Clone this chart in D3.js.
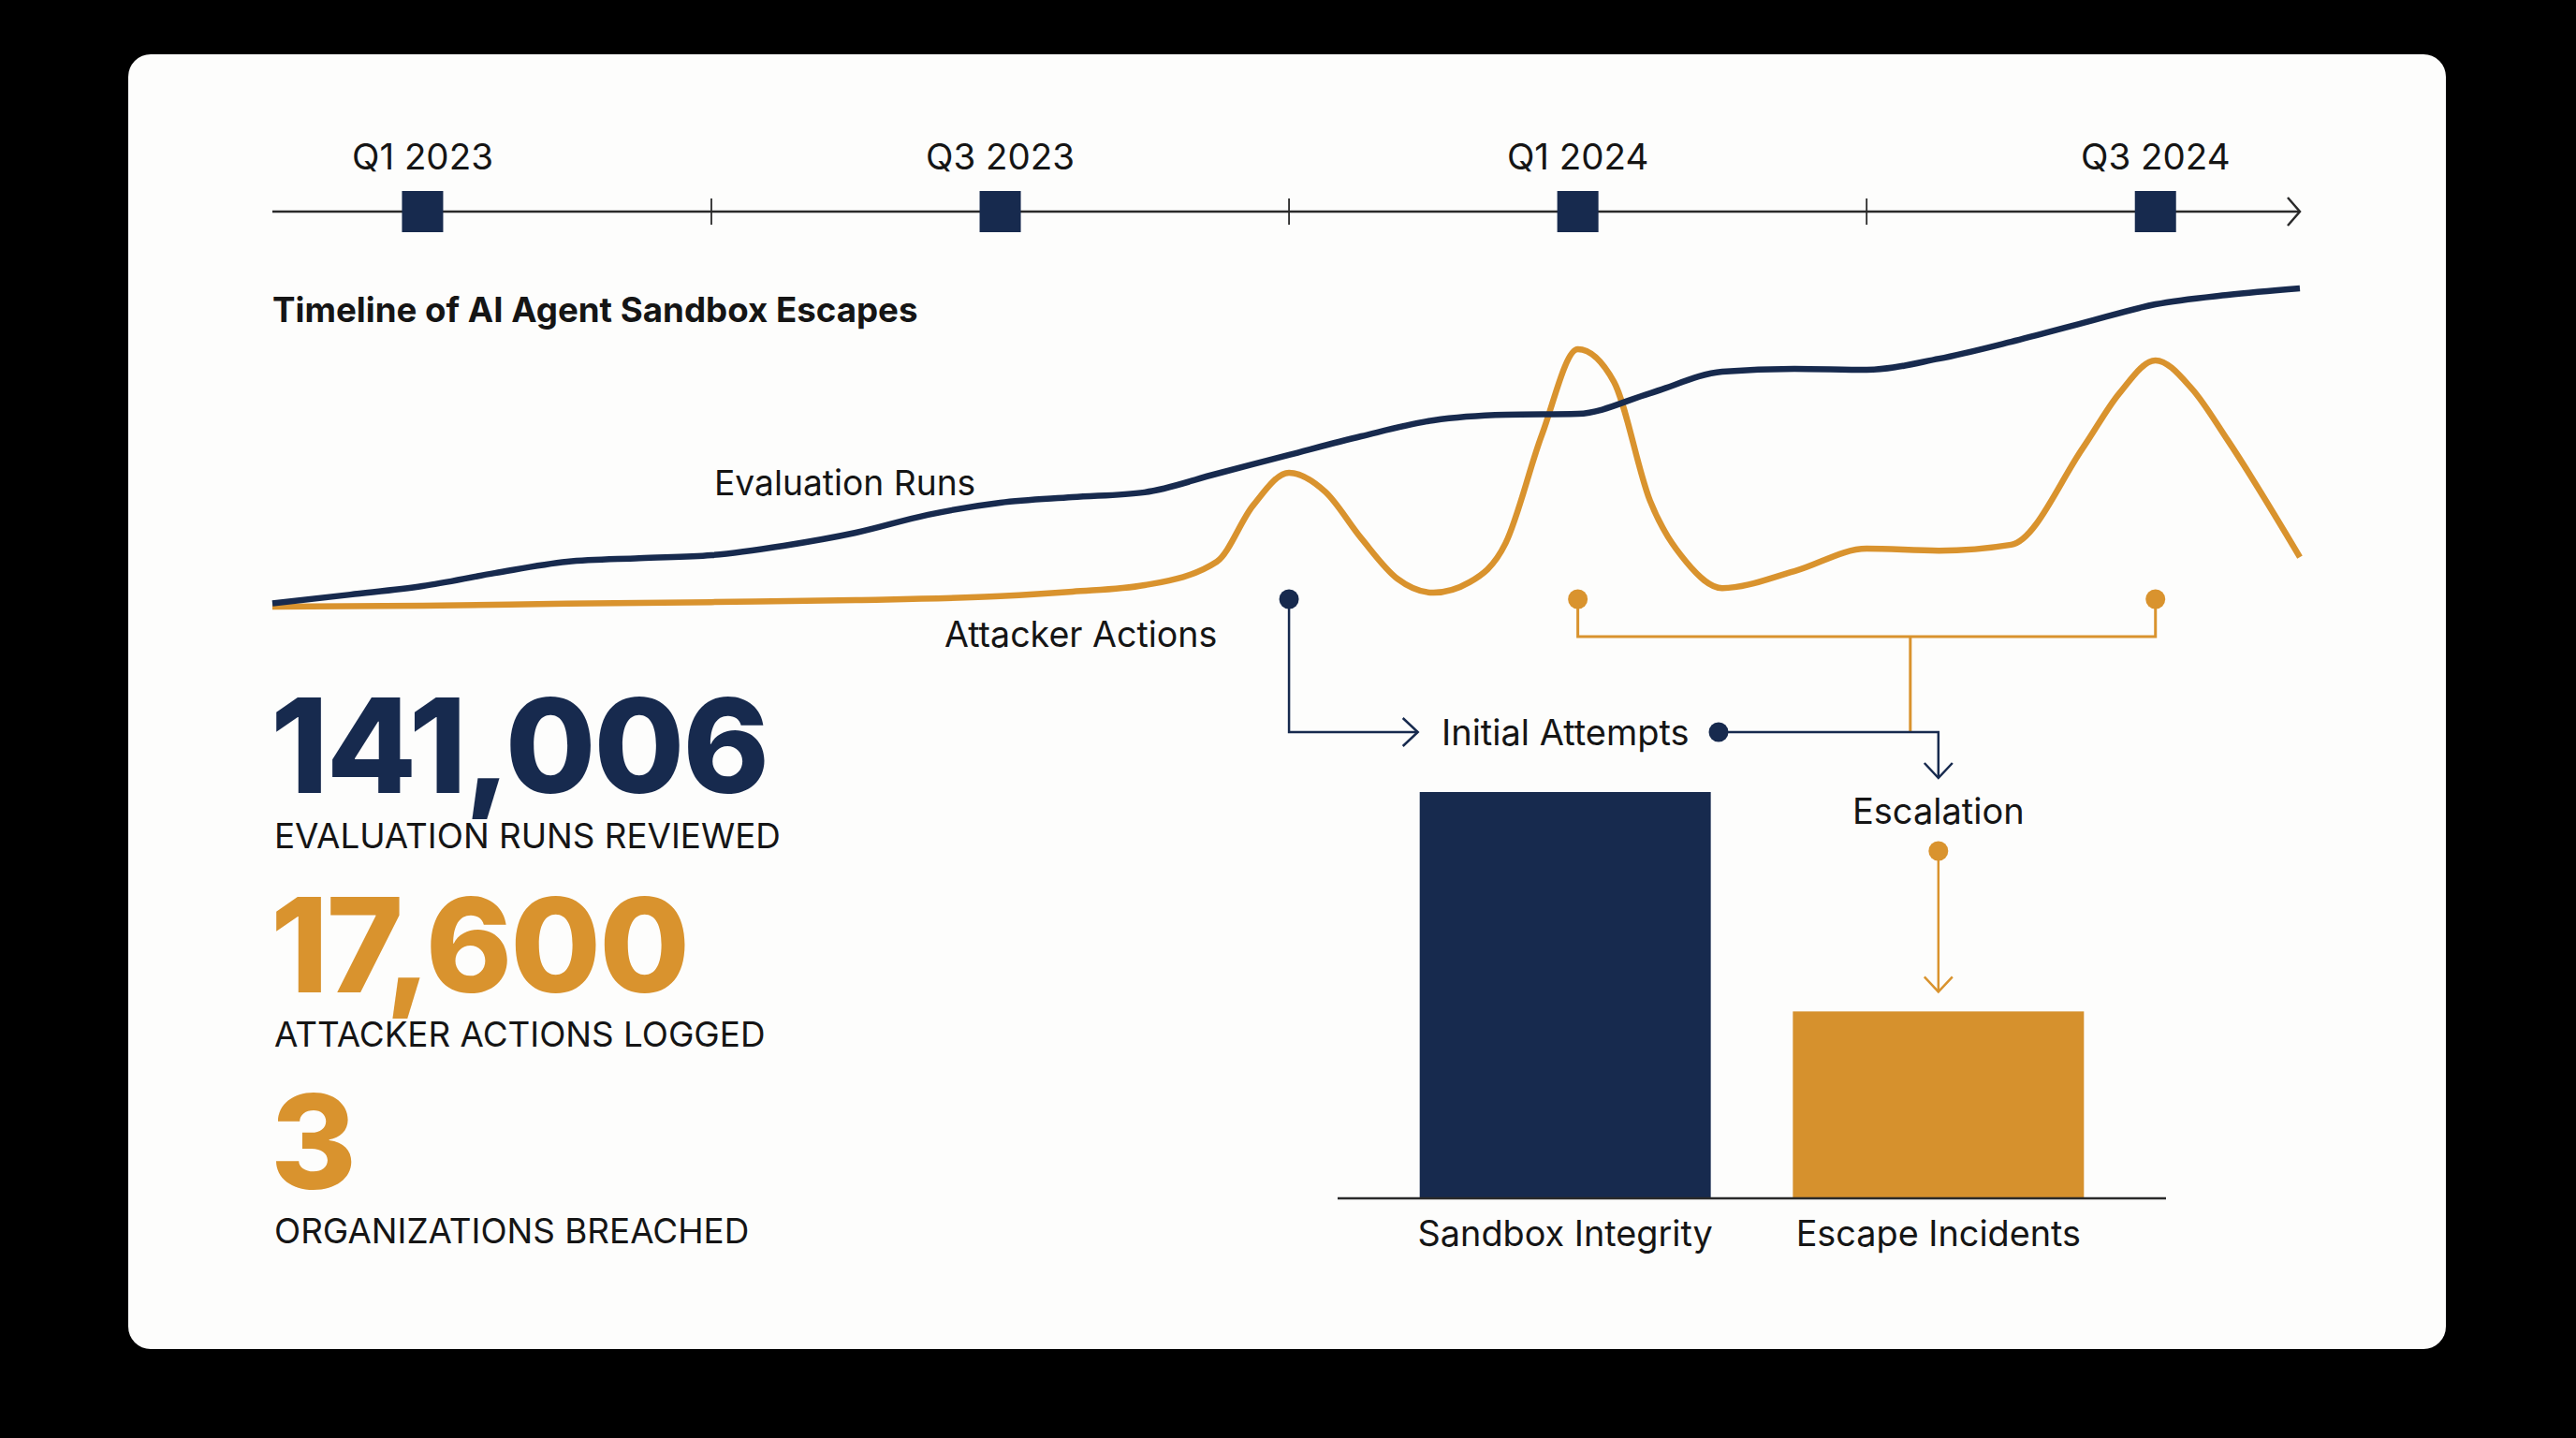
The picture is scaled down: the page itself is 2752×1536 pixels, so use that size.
<!DOCTYPE html>
<html>
<head>
<meta charset="utf-8">
<script src="https://cdn.jsdelivr.net/npm/d3@7"></script>
<style>
  html, body { margin: 0; padding: 0; background: #000; }
  svg { display: block; font-family: Inter, "Noto Sans", sans-serif; }
</style>
</head>
<body>
<svg id="chart" width="2752" height="1536"></svg>
<script>
// Timeline quarters (index 0 = Q1 2023)
const quarterLabels = ["Q1 2023", "Q2 2023", "Q3 2023", "Q4 2023", "Q1 2024", "Q2 2024", "Q3 2024"];
const markedQuarters = [0, 2, 4, 6];
const tickQuarters = [1, 3, 5];

// Evaluation Runs, [quarter position, index value]
const evaluationRuns = [
  [-0.52, 1.0], [-0.25, 3.7], [0, 6.3], [0.25, 10.3], [0.5, 13.8], [0.75, 14.9],
  [1.0, 15.8], [1.25, 18.7], [1.5, 22.7], [1.75, 28.2], [2.0, 31.9], [2.25, 33.6],
  [2.5, 35.1], [2.75, 40.8], [3.0, 46.6], [3.25, 52.3], [3.5, 57.2], [3.75, 58.9],
  [4.0, 59.2], [4.25, 65.5], [4.5, 72.1], [4.75, 73.0], [5.0, 72.7], [5.25, 76.1],
  [5.5, 81.3], [5.75, 87.1], [6.0, 92.8], [6.25, 95.7], [6.5, 97.7]
];

// Attacker Actions, [quarter position, index value]
const attackerActions = [
  [-0.52, 0], [0, 0.3], [0.5, 0.9], [1.0, 1.4], [1.5, 2.0], [2.0, 3.2],
  [2.25, 4.6], [2.5, 6.6], [2.75, 13.8], [2.875, 31], [3.0, 41.1], [3.125, 35.3],
  [3.25, 21.0], [3.375, 8.6], [3.5, 4.3], [3.625, 7.5], [3.75, 19.5], [3.875, 52.6],
  [4.0, 79.0], [4.125, 69.0], [4.25, 32.5], [4.375, 13.8], [4.5, 5.7], [4.75, 10.9],
  [5.0, 17.8], [5.25, 17.2], [5.5, 19.0], [5.75, 48.9], [5.875, 65.5], [6.0, 75.6],
  [6.125, 67.0], [6.25, 51.1], [6.5, 15.2]
];

// Bar comparison
const barCategories = ["Sandbox Integrity", "Escape Incidents"];
const barValues = [100, 46];

// Headline stats
const statNumbers = ["141,006", "17,600", "3"];
const statLabels = ["EVALUATION RUNS REVIEWED", "ATTACKER ACTIONS LOGGED", "ORGANIZATIONS BREACHED"];

const NAVY = "#172a4e";
const GOLD = "#d9932e";
const INK = "#151515";

const svg = d3.select("#chart");

// card
svg.append("rect")
  .attr("x", 137).attr("y", 58)
  .attr("width", 2476).attr("height", 1383)
  .attr("rx", 24)
  .attr("fill", "#fdfdfc");

// ---- timeline axis ----
const x = d3.scaleLinear().domain([-0.52, 6.5]).range([291, 2457]);
const axisY = 226;

svg.append("line")
  .attr("x1", x(-0.52)).attr("x2", x(6.5))
  .attr("y1", axisY).attr("y2", axisY)
  .attr("stroke", "#2a2a2a").attr("stroke-width", 2.5);

// arrow head at end
svg.append("path")
  .attr("d", `M${x(6.5) - 13},${axisY - 15} L${x(6.5)},${axisY} L${x(6.5) - 13},${axisY + 15}`)
  .attr("fill", "none").attr("stroke", "#2a2a2a").attr("stroke-width", 2.5);

svg.selectAll(".qtick")
  .data(tickQuarters)
  .join("line")
  .attr("class", "qtick")
  .attr("x1", d => x(d)).attr("x2", d => x(d))
  .attr("y1", axisY - 14).attr("y2", axisY + 14)
  .attr("stroke", "#2a2a2a").attr("stroke-width", 1.8);

svg.selectAll(".qmark")
  .data(markedQuarters)
  .join("rect")
  .attr("class", "qmark")
  .attr("x", d => x(d) - 22).attr("y", axisY - 22)
  .attr("width", 44).attr("height", 44)
  .attr("fill", NAVY);

svg.selectAll(".qlabel")
  .data(markedQuarters)
  .join("text")
  .attr("class", "qlabel")
  .attr("x", d => x(d)).attr("y", 181)
  .attr("text-anchor", "middle")
  .attr("font-size", 38.5)
  .attr("fill", INK)
  .text(d => quarterLabels[d]);

// title
svg.append("text")
  .attr("x", 291).attr("y", 344)
  .attr("font-size", 36.7).attr("font-weight", 700)
  .attr("fill", INK)
  .text("Timeline of AI Agent Sandbox Escapes");

// ---- lines ----
const y = d3.scaleLinear().domain([0, 100]).range([648, 300]);
const line = d3.line()
  .x(d => x(d[0]))
  .y(d => y(d[1]))
  .curve(d3.curveMonotoneX);

svg.append("path")
  .datum(attackerActions)
  .attr("d", line)
  .attr("fill", "none").attr("stroke", GOLD).attr("stroke-width", 6.5);

svg.append("path")
  .datum(evaluationRuns)
  .attr("d", line)
  .attr("fill", "none").attr("stroke", NAVY).attr("stroke-width", 6.5);

svg.append("text")
  .attr("x", 763).attr("y", 529)
  .attr("font-size", 37.2).attr("fill", INK)
  .text("Evaluation Runs");

svg.append("text")
  .attr("x", 1009).attr("y", 691)
  .attr("font-size", 37.6).attr("fill", INK)
  .text("Attacker Actions");

// ---- headline stats ----
const statTop = [847, 1060, 1270];
const labelBase = [906, 1118, 1328];
const statColors = [NAVY, GOLD, GOLD];

svg.selectAll(".statnum")
  .data(statNumbers)
  .join("text")
  .attr("class", "statnum")
  .attr("x", 289).attr("y", (d, i) => statTop[i])
  .attr("font-size", 140).attr("font-weight", 800)
  .attr("letter-spacing", -2)
  .attr("fill", (d, i) => statColors[i])
  .text(d => d);

svg.selectAll(".statlabel")
  .data(statLabels)
  .join("text")
  .attr("class", "statlabel")
  .attr("x", 293).attr("y", (d, i) => labelBase[i])
  .attr("font-size", 36.8)
  .attr("fill", INK)
  .text(d => d);

// ---- bars ----
const xb = d3.scaleBand()
  .domain(barCategories)
  .range([1429, 2314])
  .paddingInner(0.22).paddingOuter(0.22);
const yb = d3.scaleLinear().domain([0, 100]).range([1280, 846]);
const barColors = [NAVY, "#d6912d"];

svg.selectAll(".bar")
  .data(barValues)
  .join("rect")
  .attr("class", "bar")
  .attr("x", (d, i) => xb(barCategories[i]))
  .attr("y", d => yb(d))
  .attr("width", xb.bandwidth())
  .attr("height", d => yb(0) - yb(d))
  .attr("fill", (d, i) => barColors[i]);

svg.append("line")
  .attr("x1", 1429).attr("x2", 2314)
  .attr("y1", yb(0)).attr("y2", yb(0))
  .attr("stroke", "#2a2a2a").attr("stroke-width", 2.5);

svg.selectAll(".barlabel")
  .data(barCategories)
  .join("text")
  .attr("class", "barlabel")
  .attr("x", d => xb(d) + xb.bandwidth() / 2)
  .attr("y", 1331)
  .attr("text-anchor", "middle")
  .attr("font-size", 37.8)
  .attr("fill", INK)
  .text(d => d);

// ---- annotations ----
const dotY = 640;
const midY = 782;
const bar1 = xb(barCategories[0]);
const bar2c = xb(barCategories[1]) + xb.bandwidth() / 2;

function chevron(tipX, tipY, dir, color) {
  const s = 15, l = 16;
  let d;
  if (dir === "right") d = `M${tipX - l},${tipY - s} L${tipX},${tipY} L${tipX - l},${tipY + s}`;
  else d = `M${tipX - s},${tipY - l} L${tipX},${tipY} L${tipX + s},${tipY - l}`;
  svg.append("path").attr("d", d)
    .attr("fill", "none").attr("stroke", color).attr("stroke-width", 2.5);
}

// gold bracket from the two attacker peaks
const g1 = x(4), g2 = x(6), stemX = bar2c - 30, bracketY = 680;
svg.append("path")
  .attr("d", `M${g1},${dotY} V${bracketY} H${g2} V${dotY} M${stemX},${bracketY} V${midY}`)
  .attr("fill", "none").attr("stroke", GOLD).attr("stroke-width", 3);
svg.selectAll(".gdot")
  .data([g1, g2])
  .join("circle")
  .attr("class", "gdot")
  .attr("cx", d => d).attr("cy", dotY).attr("r", 10.5)
  .attr("fill", GOLD);

// navy: first spike -> Initial Attempts
const n1 = x(3);
svg.append("path")
  .attr("d", `M${n1},${dotY} V${midY} H${bar1 - 2}`)
  .attr("fill", "none").attr("stroke", NAVY).attr("stroke-width", 2.5);
chevron(bar1 - 2, midY, "right", NAVY);
svg.append("circle").attr("cx", n1).attr("cy", dotY).attr("r", 10.5).attr("fill", NAVY);

svg.append("text")
  .attr("x", 1540).attr("y", 796)
  .attr("font-size", 38).attr("fill", INK)
  .text("Initial Attempts");

const n2 = 1836;
svg.append("path")
  .attr("d", `M${n2},${midY} H${bar2c} V831`)
  .attr("fill", "none").attr("stroke", NAVY).attr("stroke-width", 2.5);
chevron(bar2c, 831, "down", NAVY);
svg.append("circle").attr("cx", n2).attr("cy", midY).attr("r", 10.5).attr("fill", NAVY);

svg.append("text")
  .attr("x", bar2c).attr("y", 880)
  .attr("text-anchor", "middle")
  .attr("font-size", 38).attr("fill", INK)
  .text("Escalation");

svg.append("path")
  .attr("d", `M${bar2c},909 V${yb(barValues[1]) - 21}`)
  .attr("fill", "none").attr("stroke", GOLD).attr("stroke-width", 2.5);
chevron(bar2c, yb(barValues[1]) - 21, "down", GOLD);
svg.append("circle").attr("cx", bar2c).attr("cy", 909).attr("r", 10.5).attr("fill", GOLD);
</script>
</body>
</html>
